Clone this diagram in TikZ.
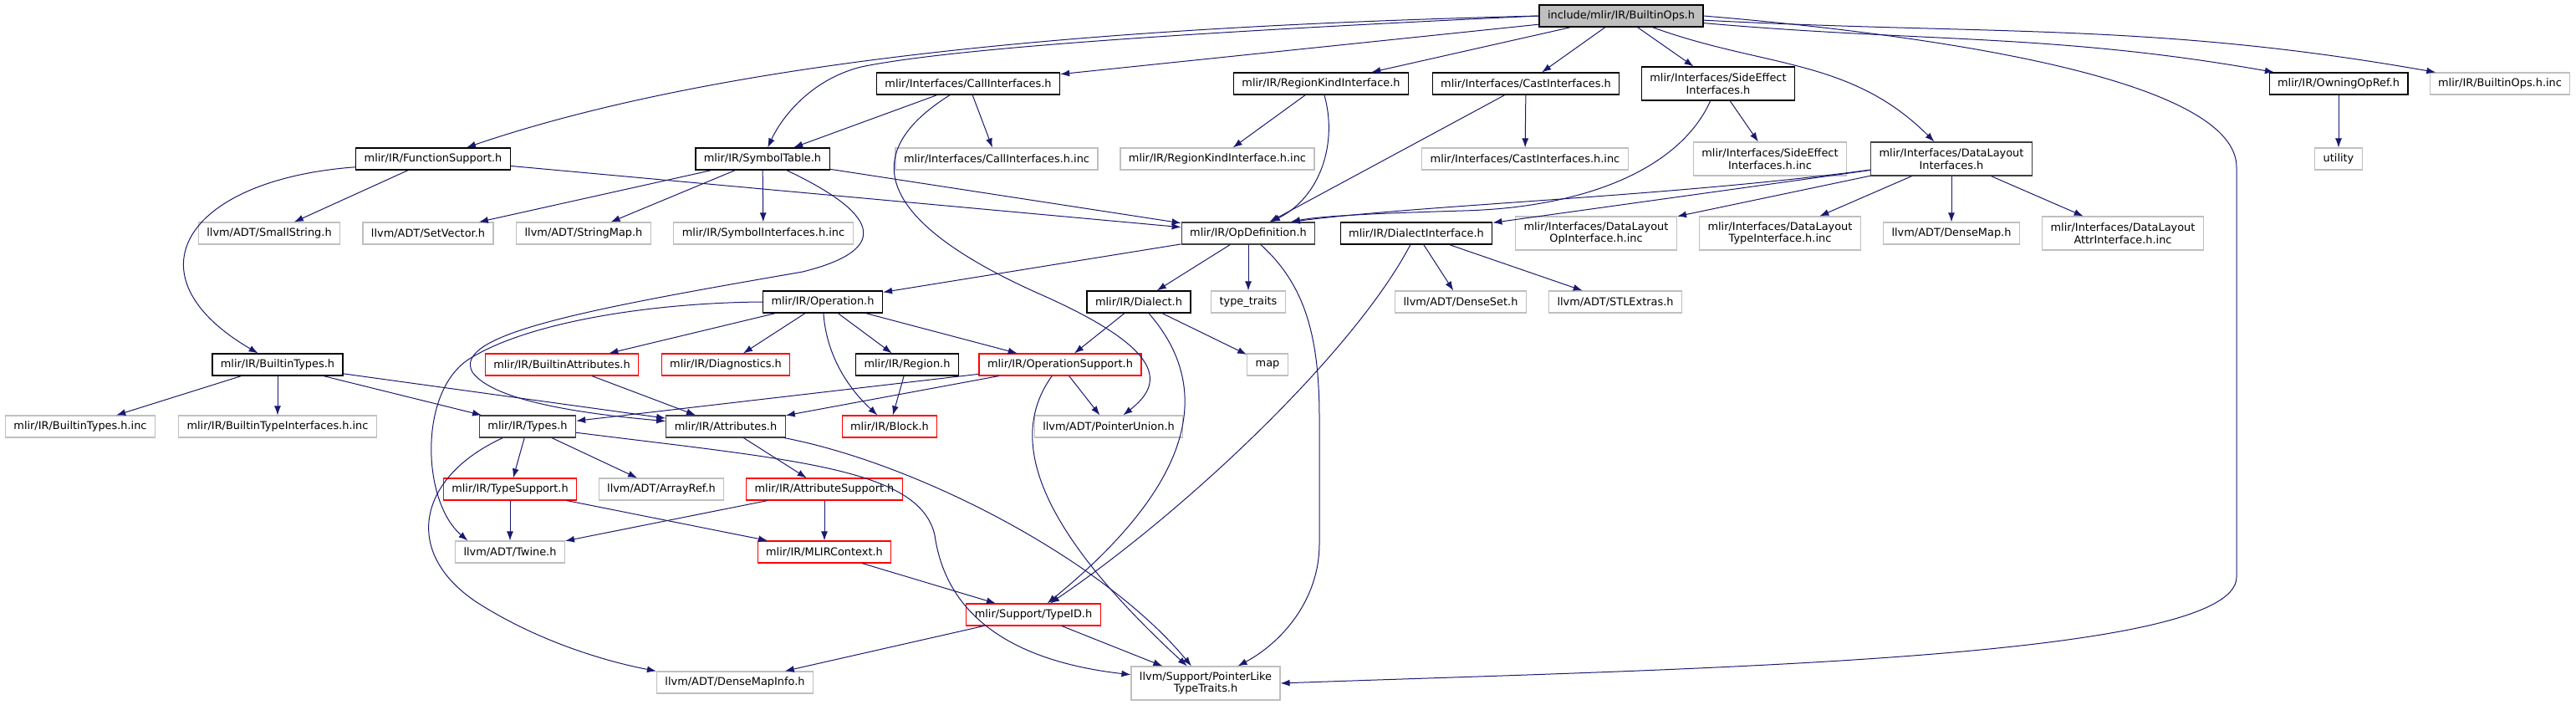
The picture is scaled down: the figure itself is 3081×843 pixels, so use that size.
\documentclass[tikz,border=0pt]{standalone}
\usepackage{fontspec}
\setmainfont{DejaVu Sans}
\usetikzlibrary{arrows.meta}
\definecolor{linkblue}{HTML}{191970}
\definecolor{sysgray}{HTML}{BFBFBF}
\definecolor{framegray}{HTML}{404040}
\tikzset{
  hdr/.style={draw=black,line width=1.2pt,fill=white,align=center,inner xsep=10pt,inner ysep=0pt,
    minimum height=26pt,font=\fontsize{12.9}{14.5}\selectfont},
  hdrdark/.style={hdr,draw=framegray},
  extfile/.style={hdr,draw=sysgray,line width=1.1pt},
  cutfile/.style={hdr,draw=red,line width=1.1pt},
  rootfile/.style={hdr,fill=sysgray},
  tall/.style={minimum height=40pt},
  dep/.style={->,draw=linkblue,line width=1pt},
}
\begin{document}
\begin{tikzpicture}[x=1pt,y=1pt,>={Latex[length=11pt,width=8pt]}]
\useasboundingbox (0,0) rectangle (3081,-843);
\node (ops) [rootfile] at (1939,-19) {include/mlir/IR/BuiltinOps.h};
\node (callif) [hdr] at (1158,-100) {mlir/Interfaces/CallInterfaces.h};
\node (regkind) [hdr] at (1580,-100) {mlir/IR/RegionKindInterface.h};
\node (castif) [hdr] at (1825,-100) {mlir/Interfaces/CastInterfaces.h};
\node (sideeff) [hdr,tall] at (2055,-100) {mlir/Interfaces/SideEffect\\Interfaces.h};
\node (owning) [hdr] at (2797,-100) {mlir/IR/OwningOpRef.h};
\node (opsinc) [extfile] at (2990,-100) {mlir/IR/BuiltinOps.h.inc};
\node (funcsup) [hdr] at (518,-190) {mlir/IR/FunctionSupport.h};
\node (symtab) [hdr] at (912,-190) {mlir/IR/SymbolTable.h};
\node (callinc) [extfile] at (1192,-190) {mlir/Interfaces/CallInterfaces.h.inc};
\node (reginc) [extfile] at (1456,-190) {mlir/IR/RegionKindInterface.h.inc};
\node (castinc) [extfile] at (1824,-190) {mlir/Interfaces/CastInterfaces.h.inc};
\node (sideinc) [extfile,tall] at (2117,-190) {mlir/Interfaces/SideEffect\\Interfaces.h.inc};
\node (dlayout) [hdrdark,tall] at (2334,-190) {mlir/Interfaces/DataLayout\\Interfaces.h};
\node (utility) [extfile] at (2797,-190) {utility};
\node (smallstr) [extfile] at (322,-279) {llvm/ADT/SmallString.h};
\node (setvec) [extfile] at (512,-279) {llvm/ADT/SetVector.h};
\node (strmap) [extfile] at (698,-279) {llvm/ADT/StringMap.h};
\node (syminc) [extfile] at (913,-279) {mlir/IR/SymbolInterfaces.h.inc};
\node (opdef) [hdrdark] at (1493,-279) {mlir/IR/OpDefinition.h};
\node (dialif) [hdr] at (1694,-279) {mlir/IR/DialectInterface.h};
\node (dlopinc) [extfile,tall] at (1909,-279) {mlir/Interfaces/DataLayout\\OpInterface.h.inc};
\node (dltypeinc) [extfile,tall] at (2129,-279) {mlir/Interfaces/DataLayout\\TypeInterface.h.inc};
\node (densemap) [extfile] at (2334,-279) {llvm/ADT/DenseMap.h};
\node (dlattrinc) [extfile,tall] at (2539,-279) {mlir/Interfaces/DataLayout\\AttrInterface.h.inc};
\node (operation) [hdr] at (984,-361) {mlir/IR/Operation.h};
\node (dialect) [hdr] at (1362,-361) {mlir/IR/Dialect.h};
\node (typetraits) [extfile] at (1493,-361) {type\_traits};
\node (denseset) [extfile] at (1747,-361) {llvm/ADT/DenseSet.h};
\node (stlextras) [extfile] at (1932,-361) {llvm/ADT/STLExtras.h};
\node (btypes) [hdr] at (332,-436) {mlir/IR/BuiltinTypes.h};
\node (battrs) [cutfile] at (672,-436) {mlir/IR/BuiltinAttributes.h};
\node (diag) [cutfile] at (868,-436) {mlir/IR/Diagnostics.h};
\node (region) [hdr] at (1085,-436) {mlir/IR/Region.h};
\node (opsupport) [cutfile] at (1268,-436) {mlir/IR/OperationSupport.h};
\node (map) [extfile] at (1516,-436) {map};
\node (btypesinc) [extfile] at (96,-510) {mlir/IR/BuiltinTypes.h.inc};
\node (btypeifinc) [extfile] at (332,-510) {mlir/IR/BuiltinTypeInterfaces.h.inc};
\node (types) [hdrdark] at (631,-510) {mlir/IR/Types.h};
\node (attrs) [hdrdark] at (868,-510) {mlir/IR/Attributes.h};
\node (block) [cutfile] at (1064,-510) {mlir/IR/Block.h};
\node (ptrunion) [extfile] at (1326,-510) {llvm/ADT/PointerUnion.h};
\node (typesup) [cutfile] at (610,-585) {mlir/IR/TypeSupport.h};
\node (arrayref) [extfile] at (791,-585) {llvm/ADT/ArrayRef.h};
\node (attrsup) [cutfile] at (986,-585) {mlir/IR/AttributeSupport.h};
\node (twine) [extfile] at (610,-660) {llvm/ADT/Twine.h};
\node (mlirctx) [cutfile] at (986,-660) {mlir/IR/MLIRContext.h};
\node (typeid) [cutfile] at (1236,-735) {mlir/Support/TypeID.h};
\node (densemapinfo) [extfile] at (879,-816) {llvm/ADT/DenseMapInfo.h};
\node (ptrlike) [extfile,tall] at (1442,-817) {llvm/Support/PointerLike\\TypeTraits.h};

\draw[dep] (ops.west) .. controls (1400,-30) and (900,-60) .. (funcsup);
\draw[dep] (ops.west) .. controls (1500,-35) and (1150,-55) .. (1030,-80)
  .. controls (970,-95) and (935,-140) .. (symtab);
\draw[dep] (ops) -- (callif);
\draw[dep] (ops) -- (regkind);
\draw[dep] (ops) -- (castif);
\draw[dep] (ops) -- (sideeff);
\draw[dep] (ops) to[out=-20,in=135] (dlayout);
\draw[dep] (ops) to[out=-5,in=170] (owning);
\draw[dep] (ops) to[out=-3,in=170] (opsinc);
\draw[dep] (ops.east) .. controls (2350,-45) and (2675,-100) .. (2675,-200) -- (2675,-690)
  .. controls (2675,-790) and (2000,-800) .. (ptrlike.east);
\draw[dep] (callif) -- (symtab);
\draw[dep] (callif) -- (callinc);
\draw[dep] (callif) .. controls (1030,-180) and (1040,-260) .. (1240,-350)
  .. controls (1400,-420) and (1390,-460) .. (ptrunion);
\draw[dep] (regkind) -- (reginc);
\draw[dep] (regkind) .. controls (1600,-170) and (1580,-235) .. (opdef);
\draw[dep] (castif) -- (castinc);
\draw[dep] (castif) -- (opdef);
\draw[dep] (sideeff) -- (sideinc);
\draw[dep] (sideeff) .. controls (2010,-200) and (1900,-248) .. (1750,-252)
  .. controls (1650,-255) and (1580,-258) .. (opdef.15);
\draw[dep] (dlayout) .. controls (2000,-235) and (1700,-245) .. (opdef.15);
\draw[dep] (dlayout) -- (dialif);
\draw[dep] (dlayout) -- (dlopinc);
\draw[dep] (dlayout) -- (dltypeinc);
\draw[dep] (dlayout) -- (densemap);
\draw[dep] (dlayout) -- (dlattrinc);
\draw[dep] (owning) -- (utility);
\draw[dep] (funcsup.186) .. controls (220,-215) and (150,-330) .. (btypes);
\draw[dep] (funcsup) -- (smallstr);
\draw[dep] (funcsup) -- (opdef);
\draw[dep] (symtab) -- (setvec);
\draw[dep] (symtab) -- (strmap);
\draw[dep] (symtab) -- (syminc);
\draw[dep] (symtab) -- (opdef);
\draw[dep] (symtab) .. controls (1060,-260) and (1060,-300) .. (960,-325)
  .. controls (700,-370) and (540,-400) .. (565,-445)
  .. controls (590,-480) and (700,-495) .. (attrs);
\draw[dep] (opdef) -- (operation);
\draw[dep] (opdef) -- (dialect);
\draw[dep] (opdef) -- (typetraits);
\draw[dep] (opdef) .. controls (1560,-340) and (1578,-400) .. (1578,-500) -- (1578,-650)
  .. controls (1578,-720) and (1530,-770) .. (ptrlike);
\draw[dep] (dialif) -- (denseset);
\draw[dep] (dialif) -- (stlextras);
\draw[dep] (dialif) .. controls (1620,-420) and (1420,-610) .. (typeid);
\draw[dep] (operation) -- (battrs);
\draw[dep] (operation) -- (diag);
\draw[dep] (operation) -- (region);
\draw[dep] (operation) .. controls (988,-420) and (1010,-460) .. (block);
\draw[dep] (operation) -- (opsupport);
\draw[dep] (operation.west) .. controls (780,-362) and (630,-385) .. (560,-430)
  .. controls (500,-470) and (505,-600) .. (twine.165);
\draw[dep] (dialect) -- (opsupport);
\draw[dep] (dialect) -- (map);
\draw[dep] (dialect) .. controls (1440,-450) and (1450,-560) .. (typeid);
\draw[dep] (btypes) -- (btypesinc);
\draw[dep] (btypes) -- (btypeifinc);
\draw[dep] (btypes) -- (types);
\draw[dep] (btypes) -- (attrs);
\draw[dep] (battrs) -- (attrs);
\draw[dep] (opsupport) -- (types);
\draw[dep] (opsupport) -- (attrs);
\draw[dep] (opsupport) -- (ptrunion);
\draw[dep] (opsupport) .. controls (1200,-530) and (1250,-640) .. (ptrlike);
\draw[dep] (region) -- (block);
\draw[dep] (types) -- (typesup);
\draw[dep] (types) -- (arrayref);
\draw[dep] (types) .. controls (500,-570) and (480,-660) .. (570,-720)
  .. controls (640,-765) and (720,-790) .. (densemapinfo.north west);
\draw[dep] (types) .. controls (950,-550) and (1100,-560) .. (1118,-640)
  .. controls (1135,-760) and (1250,-795) .. (ptrlike);
\draw[dep] (attrs) -- (attrsup);
\draw[dep] (attrs) .. controls (1100,-555) and (1320,-670) .. (ptrlike);
\draw[dep] (typesup) -- (twine);
\draw[dep] (typesup) -- (mlirctx);
\draw[dep] (attrsup) -- (twine);
\draw[dep] (attrsup) -- (mlirctx);
\draw[dep] (mlirctx) -- (typeid);
\draw[dep] (typeid) -- (densemapinfo);
\draw[dep] (typeid) -- (ptrlike);
\end{tikzpicture}
\end{document}
